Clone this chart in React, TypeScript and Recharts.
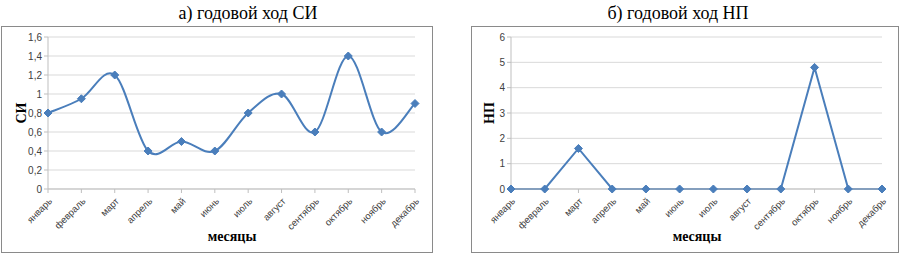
import React from 'react';
import { LineChart, Line, XAxis, YAxis, CartesianGrid } from 'recharts';

const months = ['январь', 'февраль', 'март', 'апрель', 'май', 'июнь', 'июль', 'август', 'сентябрь', 'октябрь', 'ноябрь', 'декабрь'];
const siValues = [0.8, 0.95, 1.2, 0.4, 0.5, 0.4, 0.8, 1.0, 0.6, 1.4, 0.6, 0.9];
const npValues = [0, 0, 1.6, 0, 0, 0, 0, 0, 0, 4.8, 0, 0];
const siTicks = [0, 0.2, 0.4, 0.6, 0.8, 1, 1.2, 1.4, 1.6];
const npTicks = [0, 1, 2, 3, 4, 5, 6];

const BLUE = '#4a7ebb';

// Excel-like smoothed line (Catmull-Rom style bezier)
const excelSmooth = (context: any) => {
  let pts: number[][] = [];
  return {
    areaStart() {},
    areaEnd() {},
    lineStart() {
      pts = [];
    },
    point(x: number, y: number) {
      pts.push([+x, +y]);
    },
    lineEnd() {
      const n = pts.length;
      if (!n) return;
      context.moveTo(pts[0][0], pts[0][1]);
      for (let i = 0; i < n - 1; i++) {
        const p0 = pts[Math.max(i - 1, 0)];
        const p1 = pts[i];
        const p2 = pts[i + 1];
        const p3 = pts[Math.min(i + 2, n - 1)];
        context.bezierCurveTo(
          p1[0] + (p2[0] - p0[0]) / 6,
          p1[1] + (p2[1] - p0[1]) / 6,
          p2[0] - (p3[0] - p1[0]) / 6,
          p2[1] - (p3[1] - p1[1]) / 6,
          p2[0],
          p2[1]
        );
      }
    },
  };
};

const Diamond = (props: any) => {
  const { cx, cy } = props;
  if (cx == null || cy == null) return null;
  const r = 4;
  return (
    <polygon
      key={`d-${props.index}`}
      points={`${cx},${cy - r} ${cx + r},${cy} ${cx},${cy + r} ${cx - r},${cy}`}
      fill={BLUE}
      stroke={BLUE}
      strokeWidth={1}
    />
  );
};

const MonthTick = (props: any) => {
  const { x, y, payload } = props;
  return (
    <text
      x={x + 2}
      y={y + 4}
      transform={`rotate(-45, ${x + 2}, ${y + 4})`}
      textAnchor="end"
      fontSize={9.5}
      fontFamily="'Liberation Sans', Arial, sans-serif"
      fill="#404040"
      dy={4}
    >
      {payload.value}
    </text>
  );
};

const siData = months.map((m, i) => ({ month: m, value: siValues[i] }));
const npData = months.map((m, i) => ({ month: m, value: npValues[i] }));

type PanelProps = {
  left: number;
  boxLeft: number;
  boxWidth: number;
  title: string;
  titleCenter: number;
  yLabel: string;
  yLabelX: number;
  data: { month: string; value: number }[];
  ticks: number[];
  margin: { top: number; right: number; bottom: number; left: number };
  smooth: boolean;
  xLabelCenter: number;
};

const Panel: React.FC<PanelProps> = (p) => {
  const serif = "'Liberation Serif', 'Times New Roman', serif";
  return (
    <>
      <div
        style={{
          position: 'absolute',
          left: p.boxLeft,
          top: 26,
          width: p.boxWidth,
          height: 227,
          border: '1px solid #8a8a8a',
          boxSizing: 'border-box',
        }}
      />
      <div
        style={{
          position: 'absolute',
          left: p.titleCenter - 150,
          width: 300,
          top: 2,
          textAlign: 'center',
          fontFamily: serif,
          fontSize: 18,
          lineHeight: '22px',
          color: '#000',
        }}
      >
        {p.title}
      </div>
      <div
        style={{
          position: 'absolute',
          left: p.yLabelX - 20,
          top: 103,
          width: 40,
          height: 20,
          textAlign: 'center',
          fontFamily: serif,
          fontWeight: 'bold',
          fontSize: 14,
          lineHeight: '20px',
          transform: 'rotate(-90deg)',
        }}
      >
        {p.yLabel}
      </div>
      <div
        style={{
          position: 'absolute',
          left: p.xLabelCenter - 60,
          width: 120,
          top: 227,
          textAlign: 'center',
          fontFamily: serif,
          fontWeight: 'bold',
          fontSize: 14,
          lineHeight: '20px',
        }}
      >
        месяцы
      </div>
      <div style={{ position: 'absolute', left: p.left, top: 0 }}>
        <LineChart width={450} height={255} data={p.data} margin={p.margin}>
          <CartesianGrid vertical={false} stroke="#d9d9d9" strokeWidth={1} />
          <XAxis
            dataKey="month"
            interval={0}
            height={50}
            tick={<MonthTick />}
            tickLine={{ stroke: '#bfbfbf' }}
            tickSize={4}
            axisLine={{ stroke: '#bfbfbf' }}
          />
          <YAxis
            width={40}
            domain={[p.ticks[0], p.ticks[p.ticks.length - 1]]}
            ticks={p.ticks}
            interval={0}
            tickFormatter={(v: number) => String(v).replace('.', ',')}
            tick={{ fontSize: 10, fill: '#404040', fontFamily: "'Liberation Sans', Arial, sans-serif" }}
            tickLine={{ stroke: '#bfbfbf' }}
            tickSize={4}
            axisLine={{ stroke: '#bfbfbf' }}
          />
          <Line
            dataKey="value"
            type={p.smooth ? (excelSmooth as any) : 'linear'}
            stroke={BLUE}
            strokeWidth={2}
            dot={<Diamond />}
            activeDot={false}
            isAnimationActive={false}
          />
        </LineChart>
      </div>
    </>
  );
};

export default function App() {
  return (
    <div style={{ position: 'absolute', left: 0, top: 0, width: 900, height: 255, background: '#fff', overflow: 'hidden' }}>
      <Panel
        left={0}
        boxLeft={1}
        boxWidth={432}
        title="а) годовой ход СИ"
        titleCenter={248}
        yLabel="СИ"
        yLabelX={22}
        data={siData}
        ticks={siTicks}
        margin={{ top: 37, right: 35, bottom: 16, left: 8 }}
        smooth={true}
        xLabelCenter={232}
      />
      <Panel
        left={450}
        boxLeft={471}
        boxWidth={428}
        title="б) годовой ход НП"
        titleCenter={678}
        yLabel="НП"
        yLabelX={490}
        data={npData}
        ticks={npTicks}
        margin={{ top: 37, right: 18, bottom: 16, left: 21 }}
        smooth={false}
        xLabelCenter={697}
      />
    </div>
  );
}
